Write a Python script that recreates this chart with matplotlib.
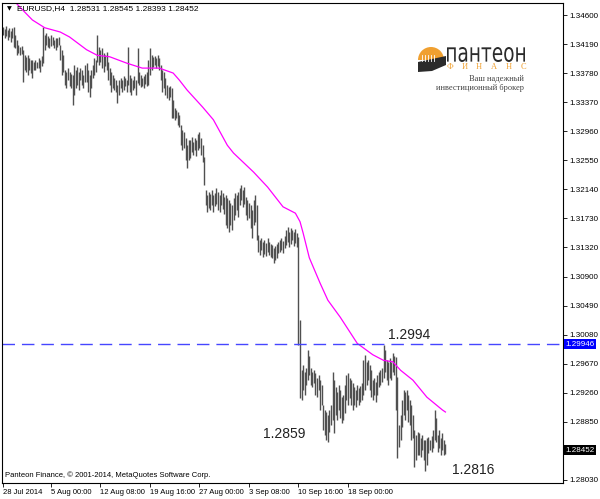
import numpy as np
import matplotlib.pyplot as plt
from matplotlib.patches import Wedge, Polygon, PathPatch
from matplotlib.textpath import TextPath
from matplotlib.font_manager import FontProperties
from matplotlib.transforms import Affine2D

# EURUSD H4 bars (high / low)
highs = [1.3443, 1.3440, 1.3444, 1.3439, 1.3442, 1.3437, 1.3442, 1.3443, 1.3432, 1.3425,
         1.3418, 1.3415, 1.3416, 1.3411, 1.3403, 1.3401, 1.3403, 1.3399, 1.3396, 1.3396,
         1.3394, 1.3396, 1.3394, 1.3399, 1.3396, 1.3402, 1.3443, 1.3432, 1.3435, 1.3430,
         1.3428, 1.3432, 1.3429, 1.3425, 1.3428, 1.3427, 1.3429, 1.3418, 1.3411, 1.3403,
         1.3382, 1.3380, 1.3385, 1.3380, 1.3377, 1.3375, 1.3389, 1.3382, 1.3387, 1.3380,
         1.3385, 1.3382, 1.3375, 1.3389, 1.3392, 1.3382, 1.3375, 1.3382, 1.3389, 1.3399,
         1.3396, 1.3432, 1.3415, 1.3411, 1.3413, 1.3406, 1.3403, 1.3408, 1.3394, 1.3385,
         1.3380, 1.3375, 1.3371, 1.3368, 1.3361, 1.3368, 1.3371, 1.3368, 1.3374, 1.3371,
         1.3368, 1.3415, 1.3375, 1.3371, 1.3368, 1.3374, 1.3368, 1.3413, 1.3380, 1.3375,
         1.3371, 1.3374, 1.3377, 1.3380, 1.3396, 1.3413, 1.3403, 1.3401, 1.3402, 1.3399,
         1.3403, 1.3399, 1.3389, 1.3382, 1.3380, 1.3371, 1.3361, 1.3358, 1.3360, 1.3357,
         1.3340, 1.3329, 1.3326, 1.3323, 1.3319, 1.3305, 1.3298, 1.3295, 1.3286, 1.3276,
         1.3283, 1.3283, 1.3288, 1.3281, 1.3286, 1.3283, 1.3292, 1.3295, 1.3286, 1.3276,
         1.3259, 1.3213, 1.3206, 1.3210, 1.3207, 1.3213, 1.3205, 1.3209, 1.3216, 1.3210,
         1.3206, 1.3213, 1.3209, 1.3203, 1.3206, 1.3202, 1.3199, 1.3194, 1.3192, 1.3202,
         1.3209, 1.3206, 1.3210, 1.3216, 1.3220, 1.3213, 1.3217, 1.3203, 1.3199, 1.3194,
         1.3192, 1.3184, 1.3199, 1.3206, 1.3192, 1.3149, 1.3142, 1.3145, 1.3139, 1.3142,
         1.3138, 1.3145, 1.3139, 1.3136, 1.3135, 1.3131, 1.3134, 1.3136, 1.3139, 1.3142,
         1.3145, 1.3141, 1.3148, 1.3156, 1.3160, 1.3153, 1.3159, 1.3156, 1.3153, 1.3157,
         1.3152, 1.3146, 1.3029, 1.2958, 1.2965, 1.2956, 1.2961, 1.2987, 1.2978, 1.2961,
         1.2956, 1.2958, 1.2954, 1.2947, 1.2951, 1.2944, 1.2937, 1.2909, 1.2902, 1.2899,
         1.2895, 1.2902, 1.2909, 1.2956, 1.2944, 1.2934, 1.2927, 1.2937, 1.2930, 1.2920,
         1.2923, 1.2937, 1.2951, 1.2954, 1.2947, 1.2944, 1.2940, 1.2934, 1.2930, 1.2937,
         1.2933, 1.2936, 1.2940, 1.2973, 1.2980, 1.2970, 1.2973, 1.2965, 1.2958, 1.2944,
         1.2947, 1.2941, 1.2951, 1.2956, 1.2958, 1.2961, 1.2994, 1.2987, 1.2973, 1.2970,
         1.2976, 1.2970, 1.2982, 1.2978, 1.2977, 1.2948, 1.2881, 1.2895, 1.2916, 1.2930,
         1.2927, 1.2930, 1.2923, 1.2916, 1.2909, 1.2895, 1.2874, 1.2867, 1.2871, 1.2869,
         1.2862, 1.2867, 1.2860, 1.2860, 1.2862, 1.2864, 1.2860, 1.2865, 1.2874, 1.2902,
         1.2891, 1.2867, 1.2874, 1.2862, 1.2869, 1.2860, 1.28545]
lows = [1.3432, 1.3428, 1.3430, 1.3425, 1.3429, 1.3422, 1.3428, 1.3415, 1.3413, 1.3403,
        1.3406, 1.3403, 1.3405, 1.3365, 1.3382, 1.3380, 1.3375, 1.3382, 1.3378, 1.3371,
        1.3382, 1.3382, 1.3385, 1.3385, 1.3380, 1.3388, 1.3392, 1.3411, 1.3418, 1.3415,
        1.3413, 1.3416, 1.3418, 1.3413, 1.3411, 1.3415, 1.3418, 1.3396, 1.3375, 1.3380,
        1.3361, 1.3357, 1.3368, 1.3360, 1.3357, 1.3333, 1.3347, 1.3357, 1.3361, 1.3354,
        1.3368, 1.3361, 1.3357, 1.3365, 1.3365, 1.3351, 1.3344, 1.3357, 1.3371, 1.3375,
        1.3380, 1.3394, 1.3389, 1.3394, 1.3385, 1.3380, 1.3388, 1.3382, 1.3368, 1.3361,
        1.3351, 1.3357, 1.3354, 1.3351, 1.3336, 1.3347, 1.3357, 1.3351, 1.3354, 1.3360,
        1.3351, 1.3361, 1.3351, 1.3347, 1.3354, 1.3357, 1.3347, 1.3364, 1.3361, 1.3358,
        1.3360, 1.3357, 1.3362, 1.3360, 1.3361, 1.3375, 1.3382, 1.3387, 1.3389, 1.3385,
        1.3388, 1.3382, 1.3368, 1.3351, 1.3357, 1.3347, 1.3343, 1.3340, 1.3344, 1.3315,
        1.3315, 1.3312, 1.3315, 1.3305, 1.3302, 1.3276, 1.3269, 1.3272, 1.3255, 1.3244,
        1.3255, 1.3258, 1.3266, 1.3262, 1.3269, 1.3261, 1.3269, 1.3272, 1.3262, 1.3252,
        1.3220, 1.3192, 1.3182, 1.3187, 1.3184, 1.3192, 1.3182, 1.3190, 1.3193, 1.3184,
        1.3182, 1.3192, 1.3186, 1.3179, 1.3163, 1.3159, 1.3153, 1.3163, 1.3156, 1.3170,
        1.3177, 1.3184, 1.3175, 1.3192, 1.3199, 1.3189, 1.3193, 1.3177, 1.3170, 1.3173,
        1.3159, 1.3145, 1.3163, 1.3167, 1.3142, 1.3125, 1.3121, 1.3128, 1.3118, 1.3122,
        1.3119, 1.3125, 1.3121, 1.3118, 1.3116, 1.3109, 1.3114, 1.3116, 1.3124, 1.3125,
        1.3128, 1.3124, 1.3131, 1.3135, 1.3139, 1.3132, 1.3136, 1.3142, 1.3134, 1.3138,
        1.3132, 1.2994, 1.2919, 1.2916, 1.2930, 1.2923, 1.2937, 1.2944, 1.2951, 1.2937,
        1.2934, 1.2940, 1.2923, 1.2920, 1.2930, 1.2902, 1.2909, 1.2874, 1.2867, 1.2860,
        1.2857, 1.2871, 1.2881, 1.2888, 1.2869, 1.2895, 1.2888, 1.2902, 1.2890, 1.2883,
        1.2888, 1.2898, 1.2916, 1.2909, 1.2919, 1.2909, 1.2902, 1.2909, 1.2906, 1.2916,
        1.2909, 1.2913, 1.2916, 1.2923, 1.2930, 1.2937, 1.2944, 1.2930, 1.2920, 1.2916,
        1.2923, 1.2913, 1.2923, 1.2934, 1.2937, 1.2941, 1.2947, 1.2956, 1.2944, 1.2937,
        1.2947, 1.2944, 1.2956, 1.2951, 1.2902, 1.2834, 1.2850, 1.2860, 1.2878, 1.2895,
        1.2888, 1.2902, 1.2885, 1.2881, 1.2860, 1.2862, 1.2821, 1.2831, 1.2838, 1.2838,
        1.2836, 1.2845, 1.2831, 1.2816, 1.2824, 1.2841, 1.2845, 1.2843, 1.2848, 1.2860,
        1.2856, 1.2843, 1.2848, 1.2838, 1.2845, 1.2838, 1.28393]

# moving average (magenta), sampled along the line
ma_idx = [8, 11, 19, 27, 37, 43, 54, 61, 69, 80, 90, 101, 110, 114, 119, 129, 136, 145, 149, 162,
          171, 181, 189, 192, 194, 198, 205, 210, 218, 229, 239, 246, 252, 257, 265, 274, 284, 286]
ma_val = [1.3478, 1.3471, 1.3453, 1.3442, 1.3436, 1.3429, 1.3411, 1.3403, 1.3401, 1.3392,
          1.3385, 1.3385, 1.3378, 1.3368, 1.3354, 1.3330, 1.3312, 1.3276, 1.3265, 1.3238,
          1.3217, 1.3189, 1.3180, 1.3168, 1.3152, 1.3117, 1.3081, 1.3057, 1.3033, 1.2996,
          1.2980, 1.2972, 1.2970, 1.2958, 1.2944, 1.2920, 1.2902, 1.2899]

date_idx = [0, 31, 63, 95, 127, 159, 191, 223]
date_labels = ['28 Jul 2014', '5 Aug 00:00', '12 Aug 08:00', '19 Aug 16:00',
               '27 Aug 00:00', '3 Sep 08:00', '10 Sep 16:00', '18 Sep 00:00']
price_ticks = [1.34600, 1.34190, 1.33780, 1.33370, 1.32960, 1.32550, 1.32140, 1.31730,
               1.31320, 1.30900, 1.30490, 1.30080, 1.29670, 1.29260, 1.28850, 1.28030]
level = 1.29946
last_ohlc = [1.28531, 1.28545, 1.28393, 1.28452]
note_idx = [249, 168, 290]
note_val = [1.3002, 1.2862, 1.2811]
note_txt = ['1.2994', '1.2859', '1.2816']

W, H = 600, 499
fig = plt.figure(figsize=(W / 100, H / 100), dpi=100)
ax = fig.add_axes([2 / W, 1 - 483 / H, 561 / W, 480 / H])

x = np.arange(len(highs))
ax.vlines(x, lows, highs, color='#505050', lw=1.0)
ax.plot(ma_idx, ma_val, color='#ff00ff', lw=0.9)
ax.axhline(level, color='#4646ff', lw=1.0, dashes=(9, 5))

ax.set_xlim(-0.65, 362)
ax.set_ylim(1.27987, 1.3477)

ax.yaxis.tick_right()
ax.set_yticks(price_ticks)
ax.set_yticklabels([f'{v:.5f}' for v in price_ticks], fontsize=5.8, family='Liberation Sans')
ax.tick_params(axis='y', direction='out', length=3, width=0.6, pad=1.5)
ax.set_xticks(date_idx)
ax.set_xticklabels(date_labels, fontsize=5.5, family='Liberation Sans', ha='left')
ax.tick_params(axis='x', direction='out', length=3, width=0.6, pad=1.5)
for s in ax.spines.values():
    s.set_linewidth(0.8)

tr = ax.get_yaxis_transform()
ax.text(1.004, level, f'{level:.5f}', transform=tr, ha='left', va='center', color='white',
        fontsize=5.8, family='Liberation Sans',
        bbox=dict(boxstyle='square,pad=0.2', fc='#0000ff', ec='none'))
ax.text(1.004, last_ohlc[3], f'{last_ohlc[3]:.5f}', transform=tr, ha='left', va='center',
        color='white', fontsize=5.8, family='Liberation Sans',
        bbox=dict(boxstyle='square,pad=0.2', fc='black', ec='none'))

for i, v, t in zip(note_idx, note_val, note_txt):
    ax.text(i, v, t, fontsize=10, family='Liberation Sans', color='#222222', va='baseline')

head = 'EURUSD,H4  ' + ' '.join(f'{v:.5f}' for v in last_ohlc)
fig.text(7 / W, 1 - 9 / H, '▼', fontsize=4.5, va='center')
fig.text(17 / W, 1 - 9 / H, head, fontsize=6, family='Liberation Sans', va='center')
fig.text(5 / W, 1 - 475 / H, 'Panteon Finance, © 2001-2014, MetaQuotes Software Corp.',
         fontsize=5.5, family='Liberation Sans', va='center')

# logo in pixel coordinates
lax = fig.add_axes([0, 0, 1, 1], zorder=5)
lax.set_xlim(0, W)
lax.set_ylim(H, 0)
lax.axis('off')
orange = '#f0a030'
lax.add_patch(Wedge((431, 60), 13, 180, 360, fc=orange, ec='none'))
for cx in [422, 425, 428, 431, 434]:
    lax.plot([cx, cx], [55, 61], color='white', lw=0.6)
lax.add_patch(Polygon([(418, 62), (446, 56), (446, 65), (432, 71), (418, 72)],
                      closed=True, fc='#2b2b2b', ec='none'))
tp = TextPath((0, 0), 'пантеон', size=1, prop=FontProperties(family='DejaVu Sans'))
ext = tp.get_extents()
sx = 78 / ext.width
sy = 15 / ext.height
t = Affine2D().translate(-ext.x0, -ext.y0).scale(sx, -sy).translate(447, 62)
lax.add_patch(PathPatch(t.transform_path(tp), fc='#2b2b2b', ec='none'))
for k, ch in enumerate('ФИНАНС'):
    lax.text(450 + k * 14.6, 67, ch, color=orange, fontsize=6, family='Liberation Serif',
             ha='center', va='center')
lax.text(524, 79, 'Ваш надежный', color='#444444', fontsize=6, family='Liberation Serif',
         ha='right', va='center')
lax.text(524, 88, 'инвестиционный брокер', color='#444444', fontsize=6,
         family='Liberation Serif', ha='right', va='center')

fig.savefig('out.png', dpi=100)
